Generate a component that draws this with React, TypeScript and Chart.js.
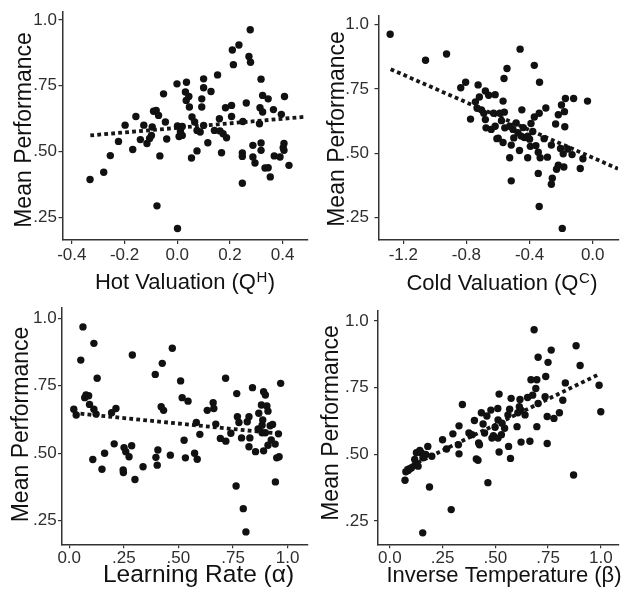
import React, { useEffect, useRef } from "react";
import { Chart, registerables } from "chart.js";
Chart.register(...registerables);

// ---------- DATA ----------
const perfTicks = [0.25, 0.5, 0.75, 1.0];
const perfTickLabels = [".25", ".50", ".75", "1.0"];

const hotTicks = [-0.4, -0.2, 0, 0.2, 0.4];
const hotTickLabels = ["-0.4", "-0.2", "0.0", "0.2", "0.4"];
const coldTicks = [-1.2, -0.8, -0.4, 0];
const coldTickLabels = ["-1.2", "-0.8", "-0.4", "0.0"];
const unitTicks = [0, 0.25, 0.5, 0.75, 1.0];
const unitTickLabels = ["0.0", ".25", ".50", ".75", "1.0"];

// [parameter value, mean performance]
const hotPoints: [number, number][] = [
  [-0.331, 0.393], [-0.279, 0.421], [-0.254, 0.484], [-0.223, 0.538], [-0.198, 0.6],
  [-0.169, 0.507], [-0.157, 0.633], [-0.14, 0.545], [-0.127, 0.6], [-0.115, 0.53],
  [-0.105, 0.549], [-0.098, 0.561], [-0.095, 0.593], [-0.09, 0.653], [-0.08, 0.656],
  [-0.077, 0.293], [-0.071, 0.637], [-0.066, 0.483], [-0.052, 0.719], [-0.045, 0.612],
  [-0.04, 0.547], [-0.001, 0.757], [0.001, 0.207], [0.001, 0.597], [0.007, 0.557],
  [0.012, 0.576], [0.019, 0.595], [0.019, 0.561], [0.031, 0.726], [0.034, 0.694],
  [0.035, 0.763], [0.044, 0.709], [0.046, 0.669], [0.054, 0.475], [0.056, 0.631],
  [0.066, 0.612], [0.075, 0.58], [0.075, 0.502], [0.087, 0.574], [0.093, 0.7],
  [0.093, 0.669], [0.1, 0.776], [0.1, 0.742], [0.1, 0.599], [0.116, 0.533],
  [0.128, 0.728], [0.141, 0.58], [0.153, 0.791], [0.16, 0.624], [0.162, 0.578],
  [0.168, 0.495], [0.174, 0.567], [0.183, 0.666], [0.187, 0.552], [0.206, 0.675],
  [0.206, 0.633], [0.209, 0.886], [0.213, 0.83], [0.234, 0.905], [0.247, 0.494],
  [0.247, 0.481], [0.247, 0.379], [0.249, 0.614], [0.262, 0.684], [0.272, 0.861],
  [0.277, 0.963], [0.278, 0.839], [0.287, 0.523], [0.287, 0.479], [0.295, 0.456],
  [0.312, 0.605], [0.314, 0.666], [0.318, 0.775], [0.318, 0.532], [0.318, 0.504],
  [0.324, 0.65], [0.324, 0.713], [0.333, 0.437], [0.345, 0.7], [0.345, 0.438],
  [0.353, 0.403], [0.365, 0.659], [0.368, 0.483], [0.39, 0.479], [0.395, 0.641],
  [0.402, 0.514], [0.405, 0.53], [0.405, 0.504], [0.407, 0.709], [0.424, 0.447],
];

const coldPoints: [number, number][] = [
  [-1.283, 0.963], [-1.059, 0.862], [-0.926, 0.886], [-0.836, 0.755], [-0.805, 0.776],
  [-0.774, 0.633], [-0.743, 0.7], [-0.732, 0.675], [-0.726, 0.766], [-0.718, 0.719],
  [-0.705, 0.669], [-0.69, 0.656], [-0.68, 0.742], [-0.68, 0.631], [-0.676, 0.599],
  [-0.659, 0.726], [-0.643, 0.593], [-0.628, 0.656], [-0.618, 0.728], [-0.618, 0.605],
  [-0.607, 0.557], [-0.599, 0.559], [-0.589, 0.656], [-0.578, 0.627], [-0.568, 0.703],
  [-0.568, 0.542], [-0.562, 0.791], [-0.56, 0.66], [-0.557, 0.599], [-0.543, 0.83],
  [-0.526, 0.605], [-0.526, 0.483], [-0.516, 0.532], [-0.516, 0.393], [-0.505, 0.593],
  [-0.5, 0.56], [-0.485, 0.618], [-0.474, 0.58], [-0.464, 0.511], [-0.46, 0.905],
  [-0.453, 0.567], [-0.449, 0.669], [-0.44, 0.6], [-0.433, 0.561], [-0.412, 0.567],
  [-0.412, 0.483], [-0.4, 0.555], [-0.395, 0.527], [-0.391, 0.616], [-0.38, 0.585],
  [-0.37, 0.842], [-0.37, 0.641], [-0.36, 0.53], [-0.345, 0.504], [-0.345, 0.422],
  [-0.339, 0.656], [-0.339, 0.293], [-0.337, 0.776], [-0.333, 0.483], [-0.308, 0.557],
  [-0.297, 0.676], [-0.287, 0.485], [-0.262, 0.532], [-0.262, 0.38], [-0.256, 0.403],
  [-0.235, 0.614], [-0.229, 0.438], [-0.218, 0.65], [-0.218, 0.454], [-0.204, 0.519],
  [-0.198, 0.688], [-0.193, 0.208], [-0.187, 0.498], [-0.183, 0.447], [-0.179, 0.662],
  [-0.177, 0.603], [-0.173, 0.713], [-0.158, 0.517], [-0.131, 0.495], [-0.121, 0.713],
  [-0.079, 0.441], [-0.062, 0.479], [-0.033, 0.703],
];

const alphaPoints: [number, number][] = [
  [0.021, 0.663], [0.032, 0.642], [0.053, 0.845], [0.063, 0.968], [0.071, 0.706],
  [0.077, 0.716], [0.089, 0.713], [0.093, 0.681], [0.108, 0.477], [0.113, 0.907],
  [0.113, 0.663], [0.123, 0.645], [0.128, 0.778], [0.15, 0.441], [0.162, 0.5],
  [0.194, 0.65], [0.206, 0.535], [0.214, 0.666], [0.247, 0.438], [0.248, 0.429],
  [0.251, 0.521], [0.259, 0.506], [0.274, 0.487], [0.286, 0.528], [0.289, 0.864],
  [0.301, 0.403], [0.338, 0.45], [0.394, 0.792], [0.397, 0.485], [0.403, 0.456],
  [0.406, 0.512], [0.421, 0.672], [0.426, 0.833], [0.432, 0.659], [0.463, 0.493],
  [0.472, 0.889], [0.51, 0.768], [0.517, 0.706], [0.526, 0.548], [0.532, 0.483],
  [0.544, 0.693], [0.574, 0.5], [0.582, 0.614], [0.586, 0.478], [0.598, 0.57],
  [0.632, 0.659], [0.659, 0.687], [0.662, 0.666], [0.671, 0.608], [0.692, 0.555],
  [0.716, 0.778], [0.717, 0.545], [0.74, 0.574], [0.764, 0.379], [0.767, 0.721],
  [0.77, 0.635], [0.777, 0.614], [0.789, 0.557], [0.797, 0.295], [0.809, 0.209],
  [0.815, 0.617], [0.823, 0.635], [0.823, 0.524], [0.827, 0.557], [0.839, 0.743],
  [0.853, 0.506], [0.865, 0.59], [0.868, 0.648], [0.88, 0.679], [0.883, 0.604],
  [0.883, 0.576], [0.886, 0.623], [0.89, 0.728], [0.89, 0.509], [0.898, 0.716],
  [0.898, 0.576], [0.905, 0.675], [0.91, 0.656], [0.91, 0.53], [0.92, 0.602],
  [0.925, 0.549], [0.931, 0.607], [0.943, 0.534], [0.944, 0.394], [0.95, 0.483],
  [0.958, 0.572], [0.961, 0.487], [0.968, 0.759],
];

const betaPoints: [number, number][] = [
  [0.072, 0.403], [0.076, 0.435], [0.087, 0.44], [0.095, 0.446], [0.103, 0.45],
  [0.118, 0.481], [0.123, 0.462], [0.126, 0.506], [0.134, 0.456], [0.142, 0.515],
  [0.149, 0.506], [0.156, 0.206], [0.157, 0.487], [0.17, 0.5], [0.18, 0.53],
  [0.188, 0.378], [0.199, 0.493], [0.25, 0.555], [0.269, 0.52], [0.291, 0.293],
  [0.299, 0.577], [0.325, 0.536], [0.328, 0.502], [0.328, 0.607], [0.344, 0.687],
  [0.375, 0.58], [0.39, 0.574], [0.401, 0.627], [0.41, 0.483], [0.418, 0.478],
  [0.421, 0.543], [0.425, 0.536], [0.434, 0.656], [0.442, 0.614], [0.449, 0.58],
  [0.46, 0.644], [0.465, 0.394], [0.479, 0.666], [0.484, 0.561], [0.491, 0.57],
  [0.499, 0.602], [0.512, 0.672], [0.518, 0.726], [0.518, 0.509], [0.513, 0.629],
  [0.513, 0.561], [0.529, 0.574], [0.532, 0.617], [0.544, 0.598], [0.56, 0.648],
  [0.563, 0.53], [0.568, 0.669], [0.572, 0.485], [0.575, 0.71], [0.603, 0.604],
  [0.607, 0.656], [0.614, 0.679], [0.617, 0.706], [0.622, 0.666], [0.622, 0.546],
  [0.641, 0.648], [0.653, 0.713], [0.664, 0.549], [0.669, 0.78], [0.677, 0.722],
  [0.684, 0.967], [0.692, 0.747], [0.697, 0.78], [0.697, 0.604], [0.703, 0.864],
  [0.703, 0.691], [0.736, 0.716], [0.739, 0.792], [0.746, 0.642], [0.746, 0.541],
  [0.75, 0.845], [0.765, 0.891], [0.778, 0.635], [0.804, 0.656], [0.82, 0.703],
  [0.832, 0.768], [0.871, 0.423], [0.883, 0.907], [0.902, 0.833], [0.992, 0.759],
  [1.0, 0.66],
];

// linear-fit lines (endpoints)
const hotTrend: [number, number][] = [[-0.33, 0.561], [0.49, 0.632]];
const coldTrend: [number, number][] = [[-1.28, 0.827], [0.16, 0.44]];
const alphaTrend: [number, number][] = [[0.02, 0.649], [0.97, 0.572]];
const betaTrend: [number, number][] = [[0.072, 0.446], [0.985, 0.798]];

// ---------- RENDERING ----------
const FONT = '"Liberation Sans", Arial, Helvetica, sans-serif';

type PanelProps = {
  w: number; h: number;
  points: [number, number][]; trend: [number, number][];
  xMin: number; xMax: number; yMin: number; yMax: number;
  xTicks: number[]; xTickLabels: string[];
  left: number; top: number; bottom: number;
  yPad: number; xPad: number;
  xTitle: string; xSup?: string; xTail?: string;
  xTitleCenter: number; xTitleBase: number; xTitleSize: number;
  yTitleBase: number; yTitleCenter: number;
};

function Panel(p: PanelProps) {
  const ref = useRef<HTMLCanvasElement>(null);
  useEffect(() => {
    const titlePlugin = {
      id: "titles",
      afterDraw(chart: any) {
        const ctx = chart.ctx as CanvasRenderingContext2D;
        ctx.save();
        ctx.fillStyle = "#111";
        ctx.font = `23px ${FONT}`;
        ctx.translate(p.yTitleBase, p.yTitleCenter);
        ctx.rotate(-Math.PI / 2);
        ctx.textAlign = "center";
        ctx.textBaseline = "alphabetic";
        ctx.fillText("Mean Performance", 0, 0);
        ctx.restore();

        ctx.save();
        ctx.fillStyle = "#111";
        ctx.textBaseline = "alphabetic";
        ctx.textAlign = "left";
        const mainFont = `${p.xTitleSize}px ${FONT}`;
        const supFont = `${Math.round(p.xTitleSize * 0.66)}px ${FONT}`;
        ctx.font = mainFont;
        const w1 = ctx.measureText(p.xTitle).width;
        let w2 = 0, w3 = 0;
        if (p.xSup) { ctx.font = supFont; w2 = ctx.measureText(p.xSup).width + 1; }
        ctx.font = mainFont;
        if (p.xTail) w3 = ctx.measureText(p.xTail).width;
        let x = p.xTitleCenter - (w1 + w2 + w3) / 2;
        ctx.fillText(p.xTitle, x, p.xTitleBase);
        x += w1;
        if (p.xSup) {
          ctx.font = supFont;
          ctx.fillText(p.xSup, x + 0.5, p.xTitleBase - p.xTitleSize * 0.3);
          x += w2;
          ctx.font = mainFont;
        }
        if (p.xTail) ctx.fillText(p.xTail, x, p.xTitleBase);
        ctx.restore();
      },
    };

    const axisColor = "#333";
    const chart = new Chart(ref.current!, {
      type: "scatter",
      data: {
        datasets: [
          {
            data: p.points.map(([x, y]) => ({ x, y })),
            pointRadius: 3.7,
            pointBackgroundColor: "#111",
            pointBorderWidth: 0,
            pointHoverRadius: 3.7,
          },
          {
            data: p.trend.map(([x, y]) => ({ x, y })),
            showLine: true,
            pointRadius: 0,
            borderColor: "#161616",
            borderWidth: 3.8,
            borderDash: [3.8, 3.2],
            borderCapStyle: "butt",
            fill: false,
          } as any,
        ],
      },
      options: {
        responsive: false,
        animation: false,
        devicePixelRatio: 1,
        layout: { padding: { top: p.top, left: 0, right: 0, bottom: 0 } },
        plugins: { legend: { display: false }, tooltip: { enabled: false } },
        scales: {
          x: {
            type: "linear",
            min: p.xMin,
            max: p.xMax,
            afterFit: (s: any) => { s.height = p.h - p.bottom; },
            afterBuildTicks: (s: any) => { s.ticks = p.xTicks.map((v) => ({ value: v })); },
            grid: { display: true, drawOnChartArea: false, drawTicks: true, tickLength: 4, color: axisColor, lineWidth: 1.2 },
            border: { display: true, color: axisColor, width: 1.5 },
            ticks: {
              font: { family: FONT, size: 17 },
              color: "#2e2e2e",
              padding: p.xPad,
              maxRotation: 0,
              autoSkip: false,
              callback: (_v: any, i: number) => p.xTickLabels[i],
            },
          },
          y: {
            type: "linear",
            min: p.yMin,
            max: p.yMax,
            afterFit: (s: any) => { s.width = p.left; },
            afterBuildTicks: (s: any) => { s.ticks = perfTicks.map((v) => ({ value: v })); },
            grid: { display: true, drawOnChartArea: false, drawTicks: true, tickLength: 4, color: axisColor, lineWidth: 1.2 },
            border: { display: true, color: axisColor, width: 1.5 },
            ticks: {
              font: { family: FONT, size: 17 },
              color: "#2e2e2e",
              padding: p.yPad,
              autoSkip: false,
              callback: (_v: any, i: number) => perfTickLabels[i],
            },
          },
        },
      },
      plugins: [titlePlugin],
    });
    return () => chart.destroy();
  }, []);
  return <canvas ref={ref} width={p.w} height={p.h} style={{ display: "block", width: p.w, height: p.h }} />;
}

export default function App() {
  return (
    <div style={{ position: "absolute", left: 0, top: 0, width: 622, height: 589, background: "#fff", overflow: "hidden" }}>
      <div style={{ position: "absolute", left: 0, top: 0 }}>
        <Panel w={311} h={295} points={hotPoints} trend={hotTrend}
          xMin={-0.4355} xMax={0.4935} yMin={0.163} yMax={1.0315}
          xTicks={hotTicks} xTickLabels={hotTickLabels}
          left={62.5} top={11} bottom={240} yPad={1.5} xPad={1}
          xTitle="Hot Valuation (Q" xSup="H" xTail=")"
          xTitleCenter={185} xTitleBase={288.5} xTitleSize={22}
          yTitleBase={31} yTitleCenter={130} />
      </div>
      <div style={{ position: "absolute", left: 311, top: 0 }}>
        <Panel w={311} h={295} points={coldPoints} trend={coldTrend}
          xMin={-1.357} xMax={0.162} yMin={0.163} yMax={1.035}
          xTicks={coldTicks} xTickLabels={coldTickLabels}
          left={67.5} top={10} bottom={240} yPad={5.5} xPad={1}
          xTitle="Cold Valuation (Q" xSup="C" xTail=")"
          xTitleCenter={191} xTitleBase={290} xTitleSize={22}
          yTitleBase={32.5} yTitleCenter={129} />
      </div>
      <div style={{ position: "absolute", left: 0, top: 295 }}>
        <Panel w={311} h={294} points={alphaPoints} trend={alphaTrend}
          xMin={-0.033} xMax={1.09} yMin={0.163} yMax={1.039}
          xTicks={unitTicks} xTickLabels={unitTickLabels}
          left={62} top={12.7} bottom={249.3} yPad={1.3} xPad={0}
          xTitle="Learning Rate (α)"
          xTitleCenter={198.5} xTitleBase={286.5} xTitleSize={24.5}
          yTitleBase={28} yTitleCenter={129.5} />
      </div>
      <div style={{ position: "absolute", left: 311, top: 295 }}>
        <Panel w={311} h={294} points={betaPoints} trend={betaTrend}
          xMin={-0.056} xMax={1.083} yMin={0.163} yMax={1.039}
          xTicks={unitTicks} xTickLabels={unitTickLabels}
          left={67} top={12.7} bottom={249.3} yPad={5.4} xPad={0}
          xTitle="Inverse Temperature (β)"
          xTitleCenter={193} xTitleBase={287} xTitleSize={22}
          yTitleBase={27} yTitleCenter={128} />
      </div>
    </div>
  );
}
